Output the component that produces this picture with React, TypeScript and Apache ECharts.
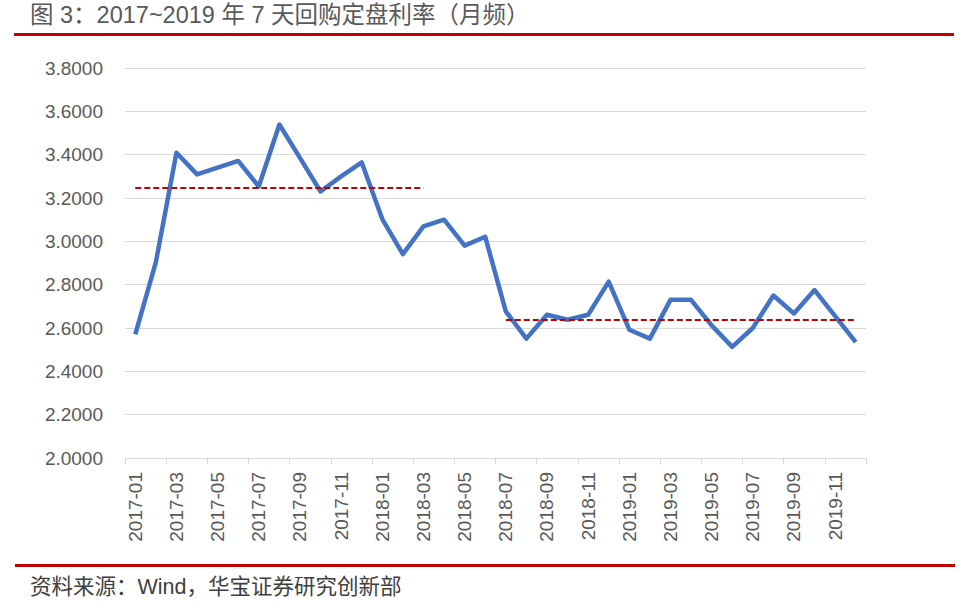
import React, { useEffect, useRef } from "react";
import * as echarts from "echarts";

const categories = [
  "2017-01", "2017-02", "2017-03", "2017-04", "2017-05", "2017-06",
  "2017-07", "2017-08", "2017-09", "2017-10", "2017-11", "2017-12",
  "2018-01", "2018-02", "2018-03", "2018-04", "2018-05", "2018-06",
  "2018-07", "2018-08", "2018-09", "2018-10", "2018-11", "2018-12",
  "2019-01", "2019-02", "2019-03", "2019-04", "2019-05", "2019-06",
  "2019-07", "2019-08", "2019-09", "2019-10", "2019-11", "2019-12",
];

const repoRate = [
  2.571, 2.904, 3.409, 3.309, 3.340, 3.371, 3.253, 3.539, 3.385, 3.230, 3.300, 3.364,
  3.103, 2.941, 3.069, 3.100, 2.980, 3.021, 2.677, 2.551, 2.661, 2.638, 2.661, 2.814,
  2.592, 2.551, 2.730, 2.730, 2.612, 2.513, 2.600, 2.750, 2.667, 2.775, 2.655, 2.535,
];

const avgLine1 = { from: "2017-01", to: "2018-03", value: 3.246 };
const avgLine2 = { from: "2018-07", to: "2019-12", value: 2.636 };

const yMin = 2.0;
const yMax = 3.8;
const yInterval = 0.2;

const titleText = "图 3：2017~2019 年 7 天回购定盘利率（月频）";
const sourceText = "资料来源：Wind，华宝证券研究创新部";

const FONT = '"Liberation Sans", Arial, "Noto Sans CJK SC", sans-serif';

export default function App() {
  const ref = useRef<HTMLDivElement>(null);

  useEffect(() => {
    if (!ref.current) return;
    const chart = echarts.init(ref.current, undefined, { renderer: "svg" });
    chart.setOption({
      animation: false,
      backgroundColor: "#ffffff",
      grid: { left: 125, right: 99, top: 68, bottom: 152, containLabel: false },
      xAxis: {
        type: "category",
        data: categories,
        boundaryGap: true,
        axisLine: { show: true, lineStyle: { color: "#D9D9D9", width: 1 } },
        axisTick: { show: true, interval: 1, length: 6, lineStyle: { color: "#D9D9D9" } },
        axisLabel: {
          interval: 1,
          rotate: 90,
          margin: 14,
          color: "#595959",
          fontSize: 19,
          fontFamily: FONT,
        },
        splitLine: { show: false },
      },
      yAxis: {
        type: "value",
        min: yMin,
        max: yMax,
        interval: yInterval,
        axisLine: { show: false },
        axisTick: { show: false },
        axisLabel: {
          formatter: (v: number) => v.toFixed(4),
          margin: 22,
          color: "#595959",
          fontSize: 19,
          fontFamily: FONT,
        },
        splitLine: { show: true, lineStyle: { color: "#D9D9D9", width: 1 } },
      },
      series: [
        {
          type: "line",
          data: repoRate,
          symbol: "none",
          lineStyle: { color: "#4472C4", width: 4.5, join: "round" },
          itemStyle: { color: "#4472C4" },
          markLine: {
            silent: true,
            symbol: ["none", "none"],
            label: { show: false },
            lineStyle: { color: "#C00000", width: 2, type: [6, 3] },
            data: [
              [
                { coord: [avgLine1.from, avgLine1.value] },
                { coord: [avgLine1.to, avgLine1.value] },
              ],
              [
                { coord: [avgLine2.from, avgLine2.value] },
                { coord: [avgLine2.to, avgLine2.value] },
              ],
            ],
          },
        },
      ],
      graphic: [
        {
          type: "text",
          left: 30,
          top: 3,
          style: {
            text: titleText,
            fontSize: 23.5,
            fontFamily: FONT,
            fill: "#595959",
          },
        },
        {
          type: "rect",
          shape: { x: 14, y: 33, width: 940, height: 3 },
          style: { fill: "#C00000" },
        },
        {
          type: "rect",
          shape: { x: 15, y: 564, width: 940, height: 3 },
          style: { fill: "#C00000" },
        },
        {
          type: "text",
          left: 30,
          top: 576,
          style: {
            text: sourceText,
            fontSize: 21.5,
            fontFamily: FONT,
            fill: "#404040",
          },
        },
      ],
    });
    return () => chart.dispose();
  }, []);

  return (
    <div
      ref={ref}
      style={{ position: "fixed", left: 0, top: 0, width: 965, height: 610 }}
    />
  );
}
